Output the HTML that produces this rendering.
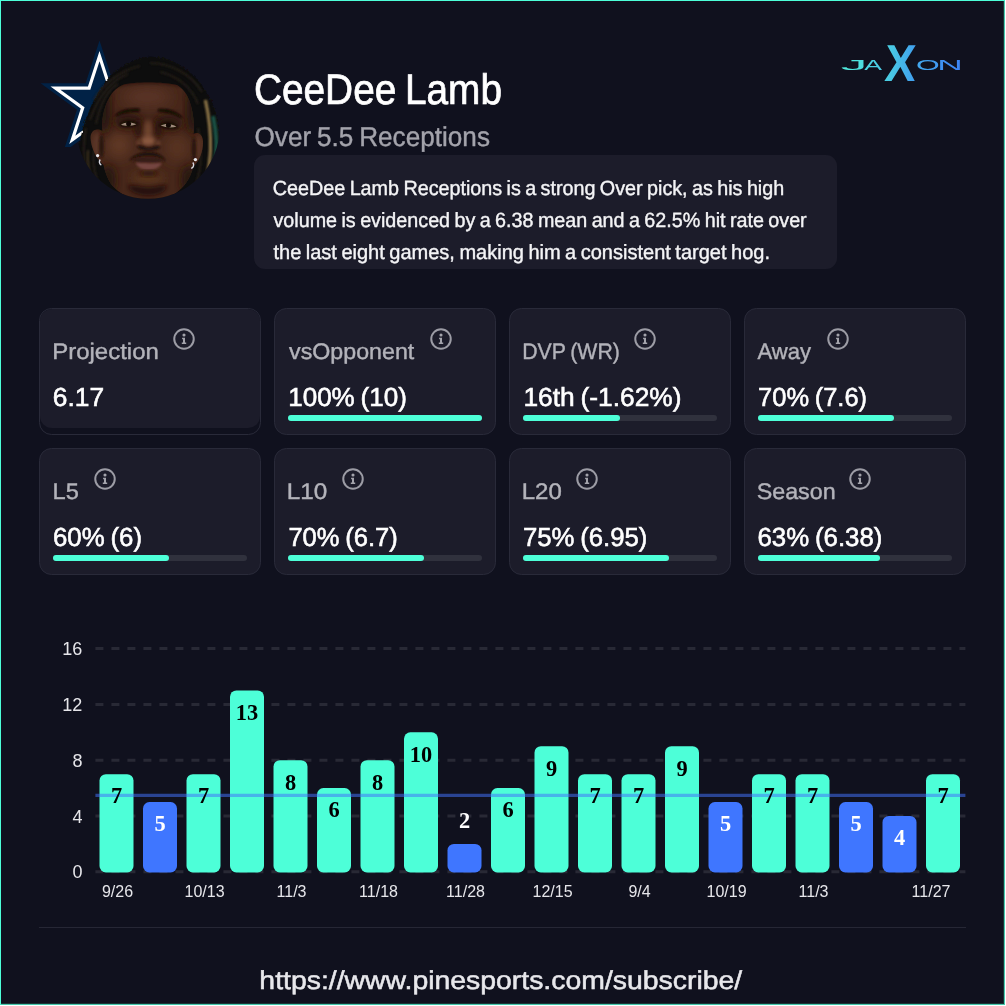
<!DOCTYPE html>
<html lang="en"><head><meta charset="utf-8"><title>CeeDee Lamb - Over 5.5 Receptions</title>
<style>
html,body{margin:0;padding:0;background:#fff;}
body{width:1006px;height:1006px;overflow:hidden;position:relative;font-family:"Liberation Sans",sans-serif;}
#frame{position:absolute;left:0;top:0;width:1003px;height:1003px;border:1px solid #4dffd9;border-right-color:#46c9ae;border-bottom-color:#46c9ae;background:#10111e;box-shadow:inset -1px -1px 0 #1b3436;}
.abs{position:absolute;white-space:nowrap;}
.nm{left:253px;top:65.94px;font-size:42.6px;line-height:46px;color:#fff;}
.sb{left:254px;top:120.51px;font-size:27.4px;line-height:32px;color:#a3a3ab;}
#desc{left:254px;top:155px;width:583px;height:114px;border-radius:11px;background:#1c1c2a;}
.dl{left:273px;font-size:20.6px;line-height:32px;color:#f4f4f6;}
.card{position:absolute;width:220px;height:124.5px;border:1px solid #292a39;border-radius:12.5px;background:#1c1c2a;}
.card.proj{background:transparent;}
.card .inner{display:none;}
.card.proj .inner{display:block;position:absolute;left:0;top:0;width:220px;height:118.5px;border-radius:12px;background:#1c1c2a;}
.lab{position:absolute;left:13px;top:30.10px;font-size:22.5px;line-height:26px;color:#b3b3ba;white-space:nowrap;}
.fx{text-rendering:geometricPrecision;display:inline-block;transform-origin:0 50%;white-space:nowrap;word-spacing:-0.055em;-webkit-text-stroke:0.4px currentColor;}
.nm .fx{-webkit-text-stroke-width:0.7px;}
.val .fx{-webkit-text-stroke-width:0.6px;}
#url .fx{-webkit-text-stroke-width:0.5px;}
.ic{position:absolute;top:18.8px;}
.val{position:absolute;left:13px;top:72.72px;font-size:26.2px;line-height:30px;color:#fff;white-space:nowrap;}
.trk{position:absolute;left:13px;top:106px;width:194px;height:6px;border-radius:3px;background:#30313d;}
.fil{height:6px;border-radius:3px;background:#4dffd8;}
.chart{position:absolute;left:0;top:620px;}
.yt{font:18px "Liberation Sans",sans-serif;fill:#e6e6ea;}
.xt{font:16px "Liberation Sans",sans-serif;fill:#e6e6ea;}
.bl{font:bold 22.4px "Liberation Serif",serif;}
#hr{left:39px;top:926.5px;width:927px;height:1px;background:#262735;}
#url{left:260px;top:962.86px;font-size:25.8px;line-height:34px;color:#e8e8ec;}
</style></head><body>
<div id="frame"></div>
<svg class="abs" style="left:0;top:0" width="260" height="230" viewBox="0 0 260 230">
<defs>
<clipPath id="hc"><circle cx="148" cy="127" r="71.8"/></clipPath>
<clipPath id="sc"><rect x="30" y="30" width="140" height="117"/></clipPath>
<clipPath id="fc"><path d="M124 84.5 C134 81.5 166 81.8 177 85 C183 88.5 187 94 189.5 101 C192 108 193.5 116 193.8 124 C194 128 194 131 193.6 134 C197 131.5 202.5 133.5 203 141 C203.5 150 199.5 162 193.5 166 C192 172 189.5 178 186 183 C178 194 166 201 148 201 C132 201 119 194 111 184 C107.5 178.5 105 172 103.5 165 C97 160 91 148 90.5 138 C90.5 130.5 96 127.5 102.3 131 C102 127 102 123 102.5 119 C104 108 108 98 113.5 91.5 C116.5 88 120 86 124 84.5Z"/></clipPath>
<filter id="b1" x="-30%" y="-30%" width="160%" height="160%"><feGaussianBlur stdDeviation="1"/></filter>
<filter id="b2" x="-30%" y="-30%" width="160%" height="160%"><feGaussianBlur stdDeviation="2.2"/></filter>
<filter id="b4" x="-40%" y="-40%" width="180%" height="180%"><feGaussianBlur stdDeviation="4.5"/></filter>
<filter id="b7" x="-50%" y="-50%" width="200%" height="200%"><feGaussianBlur stdDeviation="7"/></filter>
<filter id="rough" x="-5%" y="-5%" width="110%" height="110%"><feTurbulence type="fractalNoise" baseFrequency="0.35" numOctaves="2" seed="3" result="n"/><feDisplacementMap in="SourceGraphic" in2="n" scale="3.5" xChannelSelector="R" yChannelSelector="G"/></filter>
</defs>
<!-- team star -->
<g clip-path="url(#sc)">
<polygon points="99.50,40.50 113.40,83.27 158.37,83.27 121.99,109.71 135.88,152.48 99.50,126.04 63.12,152.48 77.01,109.71 40.63,83.27 85.60,83.27" fill="#012246"/>
<polygon points="99.50,50.90 111.06,86.49 148.48,86.49 118.21,108.48 129.77,144.06 99.50,122.07 69.23,144.06 80.79,108.48 50.52,86.49 87.94,86.49" fill="#ffffff"/>
<polygon points="99.50,61.30 108.73,89.70 138.59,89.70 114.43,107.25 123.66,135.65 99.50,118.10 75.34,135.65 84.57,107.25 60.41,89.70 90.27,89.70" fill="#012246"/>
</g>
<!-- player head -->
<g clip-path="url(#hc)">
 <g filter="url(#rough)">
 <path d="M72 205 L75 165 C76 158 77 156 77.7 152 C79 144 80 140 81.5 134 C83 127 85 121 87.5 115 C89.5 110 91 106 93.5 101 C96 96 98.5 92 102 86.5 C105 82 109 77 114 72.5 C119 68 124 65 130.5 62 C137 59 143 57.2 149.5 56.7 C156 56.5 162 57.5 168.5 59.8 C175 62 181 65.5 187.5 70.6 C193 75 197.5 79.5 201.8 85 C206 90.5 209 96 211.5 101.6 C214.5 108 216 114 217.4 120.7 C219 128 219.7 135 219.7 142.2 C219.7 150 219 157 217.4 163.7 L224 205 Z" fill="#110e0a"/>
 </g>
 <!-- hair texture highlights -->
 <g fill="none" stroke="#2a241a" stroke-width="2.2" opacity="0.75" filter="url(#b1)">
  <path d="M118 84 C108 90 100 104 96 124"/><path d="M128 74 C112 80 98 96 90 120"/><path d="M140 66 C122 70 104 82 94 100"/>
  <path d="M150 63 C168 63 190 72 202 92"/><path d="M160 72 C178 76 192 88 198 104"/><path d="M86 128 C82 148 84 166 90 182"/>
  <path d="M94 150 C92 166 96 180 102 190"/><path d="M204 100 C210 120 212 150 206 178"/><path d="M198 128 C202 146 202 166 196 184"/>
 </g>
 <!-- blond / teal dread streaks on right -->
 <path d="M205.5 100 C209 116 211 134 210.5 150 C210 160 209 168 207 176" fill="none" stroke="#9c8250" stroke-width="3" filter="url(#b1)" opacity="0.9"/>
 <path d="M213 116 C216.5 132 217.5 150 214.5 164 C213 171 211 176 209 180" fill="none" stroke="#1d5a4c" stroke-width="4" filter="url(#b1)" opacity="0.9"/>
 <path d="M88 150 C87 162 89 174 93 184" fill="none" stroke="#4a3a22" stroke-width="2.5" filter="url(#b1)" opacity="0.7"/>
 <!-- face -->

 <g clip-path="url(#fc)">
  <rect x="80" y="70" width="140" height="140" fill="#47271a"/>
  <!-- broad shading -->
  <ellipse cx="147" cy="97" rx="24" ry="9" fill="#5c3625" filter="url(#b7)"/>
  <ellipse cx="119" cy="145" rx="11" ry="13" fill="#633a28" filter="url(#b7)"/>
  <ellipse cx="177" cy="148" rx="11" ry="13" fill="#5a3424" filter="url(#b7)"/>
  <ellipse cx="148" cy="178" rx="16" ry="6" fill="#59341f" filter="url(#b4)"/>
  <!-- side shadows -->
  <ellipse cx="104" cy="110" rx="6" ry="24" fill="#24120b" filter="url(#b4)"/>
  <ellipse cx="193" cy="110" rx="6" ry="24" fill="#24120b" filter="url(#b4)"/>
  <ellipse cx="108" cy="180" rx="8" ry="15" fill="#26130c" filter="url(#b4)"/>
  <ellipse cx="189" cy="180" rx="8" ry="15" fill="#26130c" filter="url(#b4)"/>
  <path d="M116 86 C128 81 168 81 184 86 L184 78 L116 78Z" fill="#1c0f09" filter="url(#b2)"/>
  <!-- ears -->
  <ellipse cx="97" cy="145" rx="5" ry="13" fill="#5a3525" filter="url(#b2)"/>
  <ellipse cx="198.5" cy="148" rx="4" ry="13" fill="#553122" filter="url(#b2)"/>
  <ellipse cx="101.5" cy="146" rx="2.5" ry="12" fill="#2a150d" filter="url(#b1)"/>
  <ellipse cx="194" cy="149" rx="2.2" ry="12" fill="#2a150d" filter="url(#b1)"/>
  <!-- eye sockets -->
  <ellipse cx="128" cy="121" rx="14" ry="7.5" fill="#2b150d" filter="url(#b4)"/>
  <ellipse cx="169" cy="122.5" rx="14" ry="7.5" fill="#2b150d" filter="url(#b4)"/>
  <ellipse cx="138" cy="128" rx="3.5" ry="9" fill="#2e170e" filter="url(#b2)"/>
  <ellipse cx="158.5" cy="128" rx="3.5" ry="9" fill="#2e170e" filter="url(#b2)"/>
  <!-- eyebrows -->
  <path d="M115.5 115.2 C120 110.5 130 107.5 139.8 108.8 L139.5 111.8 C131 111.2 122 113 116.2 116.4Z" fill="#120805" filter="url(#b1)"/>
  <path d="M158 109 C167 107.8 176.5 111 182 117.2 L181 118.3 C175 114 167 112 158.3 112Z" fill="#120805" filter="url(#b1)"/>
  <!-- eyes -->
  <path d="M118.8 125 C122.5 119.8 133 119.3 138.6 124 C133 127.6 124 127.8 118.8 125Z" fill="#190b06" filter="url(#b1)"/>
  <path d="M158.2 125.6 C163.5 120.8 174 121.4 178.6 127.4 C172.5 129.6 164 129 158.2 125.6Z" fill="#190b06" filter="url(#b1)"/>
  <path d="M121 124.7 C124.5 122 131.5 121.8 136.3 124.3 C131.5 126.2 125 126.4 121 124.7Z" fill="#9f8b7c"/>
  <path d="M160.6 125.6 C165 123 172 123.5 176.4 126.8 C171.5 128 165.5 127.6 160.6 125.6Z" fill="#9f8b7c"/>
  <circle cx="128.6" cy="123.8" r="2.5" fill="#120805"/><circle cx="168.4" cy="125.2" r="2.5" fill="#120805"/>
  <!-- nose -->
  <ellipse cx="148" cy="131" rx="3.8" ry="11" fill="#70442f" filter="url(#b2)"/>
  <ellipse cx="148" cy="141" rx="7.5" ry="4.6" fill="#8a5840" filter="url(#b2)"/>
  <ellipse cx="139" cy="143" rx="3" ry="3" fill="#5e3826" filter="url(#b1)"/><ellipse cx="158" cy="143.5" rx="3" ry="3" fill="#5e3826" filter="url(#b1)"/>
  <path d="M136.8 146.2 C140 144.2 143 147.2 148.4 148 C154 147.2 157.5 144.2 160.6 146.8 C158 150 153 150.4 148.4 150.2 C144 150.4 139.3 150 136.8 146.2Z" fill="#1f0e08" filter="url(#b1)"/>
  <!-- mustache + lips -->
  <path d="M128.6 161 C132 155.5 141 152 149 152.2 C157 152 163 155.5 166 161.2 C160 156.8 155 155.6 149 155.8 C143 155.6 135 156.6 128.6 161Z" fill="#1a0c07" filter="url(#b1)"/>
  <path d="M130.5 160.5 C137 156.8 144 157 148.5 157.8 C153 157 159 157 165 161 C158.5 163 153 162.6 148.5 162.6 C143 162.6 137.5 162.8 130.5 160.5Z" fill="#361a14" filter="url(#b1)"/>
  <path d="M135.5 162.6 C141 163.4 156 163.4 162 162.8 C160 167.8 154.5 170 148.6 170 C142.5 170 137.5 167.8 135.5 162.6Z" fill="#74443f" filter="url(#b1)"/>
  <ellipse cx="148.5" cy="173.5" rx="10" ry="2.2" fill="#2f170f" filter="url(#b2)"/>
  <!-- goatee -->
  <path d="M127.5 186 C134 184.5 142 188 148 187.5 C155 188 162 184.5 167 186 C165 192 158 195.5 148 195.5 C139 195.5 130.5 192 127.5 186Z" fill="#201009" filter="url(#b2)" opacity="0.9"/>
 </g>
 <!-- earrings -->
 <circle cx="97.6" cy="155.6" r="1.6" fill="#e8e8ee"/><path d="M100.2 159.5 C98.8 161.5 99.2 164.3 101.3 165" fill="none" stroke="#d8d8e0" stroke-width="1.4"/>
 <circle cx="195.4" cy="159.6" r="1.7" fill="#e8e8ee"/><path d="M192.8 162.5 C194.3 164.5 193.8 167.6 191.2 168.4" fill="none" stroke="#d8d8e0" stroke-width="1.4"/>
</g>
</svg>

<svg class="abs" style="left:830px;top:35px" width="140" height="60" viewBox="830 35 140 60">
<defs><linearGradient id="gJ" x1="0" y1="0" x2="1" y2="0"><stop offset="0" stop-color="#50ecdc"/><stop offset="1" stop-color="#4cdae0"/></linearGradient><linearGradient id="gA" x1="0" y1="0" x2="1" y2="0"><stop offset="0" stop-color="#4cd8e1"/><stop offset="1" stop-color="#49c8e5"/></linearGradient><linearGradient id="gX" x1="0" y1="0" x2="1" y2="0"><stop offset="0" stop-color="#4bd3e2"/><stop offset="1" stop-color="#409def"/></linearGradient><linearGradient id="gO" x1="0" y1="0" x2="1" y2="0"><stop offset="0" stop-color="#43a9ed"/><stop offset="1" stop-color="#3f96f1"/></linearGradient><linearGradient id="gN" x1="0" y1="0" x2="1" y2="0"><stop offset="0" stop-color="#3f95f1"/><stop offset="1" stop-color="#3b82f6"/></linearGradient></defs>
<g font-family="'Liberation Sans',sans-serif">
<text fill="url(#gJ)" transform="translate(840.81 69.9) scale(3.65 1)" font-size="14.6">J</text>
<text fill="url(#gA)" transform="translate(864.2 69.9) scale(1.83 1)" font-size="14.6">A</text>
<text fill="url(#gX)" transform="translate(884.0 81.2) skewX(-3) scale(0.92 1.02)" font-size="50.8" font-weight="700">X</text>
<text fill="url(#gO)" transform="translate(915.95 69.9) scale(2.09 1)" font-size="14.6">O</text>
<text fill="url(#gN)" transform="translate(937.34 69.9) scale(2.42 1)" font-size="14.6">N</text>
</g>
</svg>
<div class="abs nm"><span class="fx" id="name" style="transform:translate(0.90px,-0.40px) scaleX(0.9112)">CeeDee Lamb</span></div>
<div class="abs sb"><span class="fx" id="sub" style="transform:translate(0.53px,0.00px) scaleX(0.9544)">Over 5.5 Receptions</span></div>
<div id="desc" class="abs"></div>
<div class="abs dl" style="top:171.76px"><span class="fx" id="d1" style="transform:translate(-0.19px,0.00px) scaleX(0.9585)">CeeDee Lamb Receptions is a strong Over pick, as his high</span></div>
<div class="abs dl" style="top:203.76px"><span class="fx" id="d2" style="transform:translate(0.49px,0.00px) scaleX(0.9581)">volume is evidenced by a 6.38 mean and a 62.5% hit rate over</span></div>
<div class="abs dl" style="top:235.86px"><span class="fx" id="d3" style="transform:translate(0.46px,0.00px) scaleX(0.9723)">the last eight games, making him a consistent target hog.</span></div>
<div class="card proj" style="left:39px;top:308px"><div class="inner"></div><div class="lab"><span class="fx" id="l0" style="transform:translate(-0.79px,0.45px) scaleX(1.0652)">Projection</span></div><svg class="ic" style="left:132.5px" width="22" height="22" viewBox="0 0 22 22"><circle cx="11" cy="11" r="9.75" fill="none" stroke="#9c9ca5" stroke-width="2"/><circle cx="11" cy="7" r="1.55" fill="#a3a3ab"/><path d="M9.1 9.7h2.9v4.9h1.2v1.5H8.8v-1.5h1.2v-3.4H9.1z" fill="#a3a3ab"/></svg><div class="val"><span class="fx" id="v0" style="transform:translate(-0.21px,0.00px) scaleX(1.0060)">6.17</span></div></div>
<div class="card" style="left:274px;top:308px"><div class="inner"></div><div class="lab"><span class="fx" id="l1" style="transform:translate(1.03px,0.45px) scaleX(1.0321)">vsOpponent</span></div><svg class="ic" style="left:154.6px" width="22" height="22" viewBox="0 0 22 22"><circle cx="11" cy="11" r="9.75" fill="none" stroke="#9c9ca5" stroke-width="2"/><circle cx="11" cy="7" r="1.55" fill="#a3a3ab"/><path d="M9.1 9.7h2.9v4.9h1.2v1.5H8.8v-1.5h1.2v-3.4H9.1z" fill="#a3a3ab"/></svg><div class="val"><span class="fx" id="v1" style="transform:translate(0.16px,0.00px) scaleX(0.9946)">100% (10)</span></div><div class="trk"><div class="fil" style="width:100%"></div></div></div>
<div class="card" style="left:509px;top:308px"><div class="inner"></div><div class="lab"><span class="fx" id="l2" style="transform:translate(-0.80px,0.45px) scaleX(0.9445)">DVP (WR)</span></div><svg class="ic" style="left:123.7px" width="22" height="22" viewBox="0 0 22 22"><circle cx="11" cy="11" r="9.75" fill="none" stroke="#9c9ca5" stroke-width="2"/><circle cx="11" cy="7" r="1.55" fill="#a3a3ab"/><path d="M9.1 9.7h2.9v4.9h1.2v1.5H8.8v-1.5h1.2v-3.4H9.1z" fill="#a3a3ab"/></svg><div class="val"><span class="fx" id="v2" style="transform:translate(0.45px,0.00px) scaleX(1.0056)">16th (-1.62%)</span></div><div class="trk"><div class="fil" style="width:50%"></div></div></div>
<div class="card" style="left:744px;top:308px"><div class="inner"></div><div class="lab"><span class="fx" id="l3" style="transform:translate(-0.50px,0.45px) scaleX(0.9801)">Away</span></div><svg class="ic" style="left:81.7px" width="22" height="22" viewBox="0 0 22 22"><circle cx="11" cy="11" r="9.75" fill="none" stroke="#9c9ca5" stroke-width="2"/><circle cx="11" cy="7" r="1.55" fill="#a3a3ab"/><path d="M9.1 9.7h2.9v4.9h1.2v1.5H8.8v-1.5h1.2v-3.4H9.1z" fill="#a3a3ab"/></svg><div class="val"><span class="fx" id="v3" style="transform:translate(0.04px,0.00px) scaleX(0.9728)">70% (7.6)</span></div><div class="trk"><div class="fil" style="width:70%"></div></div></div>
<div class="card" style="left:39px;top:448px"><div class="inner"></div><div class="lab"><span class="fx" id="l4" style="transform:translate(-0.38px,0.45px) scaleX(1.0496)">L5</span></div><svg class="ic" style="left:53.5px" width="22" height="22" viewBox="0 0 22 22"><circle cx="11" cy="11" r="9.75" fill="none" stroke="#9c9ca5" stroke-width="2"/><circle cx="11" cy="7" r="1.55" fill="#a3a3ab"/><path d="M9.1 9.7h2.9v4.9h1.2v1.5H8.8v-1.5h1.2v-3.4H9.1z" fill="#a3a3ab"/></svg><div class="val"><span class="fx" id="v4" style="transform:translate(0.00px,0.00px) scaleX(0.9860)">60% (6)</span></div><div class="trk"><div class="fil" style="width:60%"></div></div></div>
<div class="card" style="left:274px;top:448px"><div class="inner"></div><div class="lab"><span class="fx" id="l5" style="transform:translate(-1.21px,0.45px) scaleX(1.0771)">L10</span></div><svg class="ic" style="left:66.9px" width="22" height="22" viewBox="0 0 22 22"><circle cx="11" cy="11" r="9.75" fill="none" stroke="#9c9ca5" stroke-width="2"/><circle cx="11" cy="7" r="1.55" fill="#a3a3ab"/><path d="M9.1 9.7h2.9v4.9h1.2v1.5H8.8v-1.5h1.2v-3.4H9.1z" fill="#a3a3ab"/></svg><div class="val"><span class="fx" id="v5" style="transform:translate(0.40px,0.00px) scaleX(0.9754)">70% (6.7)</span></div><div class="trk"><div class="fil" style="width:70%"></div></div></div>
<div class="card" style="left:509px;top:448px"><div class="inner"></div><div class="lab"><span class="fx" id="l6" style="transform:translate(-1.23px,0.45px) scaleX(1.0661)">L20</span></div><svg class="ic" style="left:66.4px" width="22" height="22" viewBox="0 0 22 22"><circle cx="11" cy="11" r="9.75" fill="none" stroke="#9c9ca5" stroke-width="2"/><circle cx="11" cy="7" r="1.55" fill="#a3a3ab"/><path d="M9.1 9.7h2.9v4.9h1.2v1.5H8.8v-1.5h1.2v-3.4H9.1z" fill="#a3a3ab"/></svg><div class="val"><span class="fx" id="v6" style="transform:translate(-0.05px,0.00px) scaleX(0.9828)">75% (6.95)</span></div><div class="trk"><div class="fil" style="width:75%"></div></div></div>
<div class="card" style="left:744px;top:448px"><div class="inner"></div><div class="lab"><span class="fx" id="l7" style="transform:translate(-1.36px,0.45px) scaleX(1.0357)">Season</span></div><svg class="ic" style="left:104.1px" width="22" height="22" viewBox="0 0 22 22"><circle cx="11" cy="11" r="9.75" fill="none" stroke="#9c9ca5" stroke-width="2"/><circle cx="11" cy="7" r="1.55" fill="#a3a3ab"/><path d="M9.1 9.7h2.9v4.9h1.2v1.5H8.8v-1.5h1.2v-3.4H9.1z" fill="#a3a3ab"/></svg><div class="val"><span class="fx" id="v7" style="transform:translate(-0.52px,0.00px) scaleX(0.9866)">63% (6.38)</span></div><div class="trk"><div class="fil" style="width:63%"></div></div></div>
<svg class="chart" width="1006" height="300" viewBox="0 620 1006 300">
<line x1="95.4" x2="965.4" y1="871.80" y2="871.80" stroke="#282935" stroke-width="3" stroke-dasharray="8 8"/>
<text x="82.4" y="878.40" class="yt" text-anchor="end">0</text>
<line x1="95.4" x2="965.4" y1="816.00" y2="816.00" stroke="#282935" stroke-width="3" stroke-dasharray="8 8"/>
<text x="82.4" y="822.60" class="yt" text-anchor="end">4</text>
<line x1="95.4" x2="965.4" y1="760.20" y2="760.20" stroke="#282935" stroke-width="3" stroke-dasharray="8 8"/>
<text x="82.4" y="766.80" class="yt" text-anchor="end">8</text>
<line x1="95.4" x2="965.4" y1="704.40" y2="704.40" stroke="#282935" stroke-width="3" stroke-dasharray="8 8"/>
<text x="82.4" y="711.00" class="yt" text-anchor="end">12</text>
<line x1="95.4" x2="965.4" y1="648.60" y2="648.60" stroke="#282935" stroke-width="3" stroke-dasharray="8 8"/>
<text x="82.4" y="655.20" class="yt" text-anchor="end">16</text>
<rect x="99.50" y="774.15" width="34.0" height="98.25" rx="6.4" fill="#4dffd8"/>
<rect x="143.00" y="802.05" width="34.0" height="70.35" rx="6.4" fill="#3f76ff"/>
<rect x="186.50" y="774.15" width="34.0" height="98.25" rx="6.4" fill="#4dffd8"/>
<rect x="230.00" y="690.45" width="34.0" height="181.95" rx="6.4" fill="#4dffd8"/>
<rect x="273.50" y="760.20" width="34.0" height="112.20" rx="6.4" fill="#4dffd8"/>
<rect x="317.00" y="788.10" width="34.0" height="84.30" rx="6.4" fill="#4dffd8"/>
<rect x="360.50" y="760.20" width="34.0" height="112.20" rx="6.4" fill="#4dffd8"/>
<rect x="404.00" y="732.30" width="34.0" height="140.10" rx="6.4" fill="#4dffd8"/>
<rect x="447.50" y="843.90" width="34.0" height="28.50" rx="6.4" fill="#3f76ff"/>
<rect x="491.00" y="788.10" width="34.0" height="84.30" rx="6.4" fill="#4dffd8"/>
<rect x="534.50" y="746.25" width="34.0" height="126.15" rx="6.4" fill="#4dffd8"/>
<rect x="578.00" y="774.15" width="34.0" height="98.25" rx="6.4" fill="#4dffd8"/>
<rect x="621.50" y="774.15" width="34.0" height="98.25" rx="6.4" fill="#4dffd8"/>
<rect x="665.00" y="746.25" width="34.0" height="126.15" rx="6.4" fill="#4dffd8"/>
<rect x="708.50" y="802.05" width="34.0" height="70.35" rx="6.4" fill="#3f76ff"/>
<rect x="752.00" y="774.15" width="34.0" height="98.25" rx="6.4" fill="#4dffd8"/>
<rect x="795.50" y="774.15" width="34.0" height="98.25" rx="6.4" fill="#4dffd8"/>
<rect x="839.00" y="802.05" width="34.0" height="70.35" rx="6.4" fill="#3f76ff"/>
<rect x="882.50" y="816.00" width="34.0" height="56.40" rx="6.4" fill="#3f76ff"/>
<rect x="926.00" y="774.15" width="34.0" height="98.25" rx="6.4" fill="#4dffd8"/>
<line x1="95.4" x2="965.4" y1="795.37" y2="795.37" stroke="#4273fa" stroke-opacity="0.535" stroke-width="3.2"/>
<text x="116.50" y="803.45" class="bl" fill="#000" text-anchor="middle">7</text>
<text x="160.00" y="831.35" class="bl" fill="#fff" text-anchor="middle">5</text>
<text x="203.50" y="803.45" class="bl" fill="#000" text-anchor="middle">7</text>
<text x="247.00" y="719.75" class="bl" fill="#000" text-anchor="middle">13</text>
<text x="290.50" y="789.50" class="bl" fill="#000" text-anchor="middle">8</text>
<text x="334.00" y="817.40" class="bl" fill="#000" text-anchor="middle">6</text>
<text x="377.50" y="789.50" class="bl" fill="#000" text-anchor="middle">8</text>
<text x="421.00" y="761.60" class="bl" fill="#000" text-anchor="middle">10</text>
<text x="464.50" y="828.30" class="bl" fill="#fff" text-anchor="middle">2</text>
<text x="508.00" y="817.40" class="bl" fill="#000" text-anchor="middle">6</text>
<text x="551.50" y="775.55" class="bl" fill="#000" text-anchor="middle">9</text>
<text x="595.00" y="803.45" class="bl" fill="#000" text-anchor="middle">7</text>
<text x="638.50" y="803.45" class="bl" fill="#000" text-anchor="middle">7</text>
<text x="682.00" y="775.55" class="bl" fill="#000" text-anchor="middle">9</text>
<text x="725.50" y="831.35" class="bl" fill="#fff" text-anchor="middle">5</text>
<text x="769.00" y="803.45" class="bl" fill="#000" text-anchor="middle">7</text>
<text x="812.50" y="803.45" class="bl" fill="#000" text-anchor="middle">7</text>
<text x="856.00" y="831.35" class="bl" fill="#fff" text-anchor="middle">5</text>
<text x="899.50" y="845.30" class="bl" fill="#fff" text-anchor="middle">4</text>
<text x="943.00" y="803.45" class="bl" fill="#000" text-anchor="middle">7</text>
<text x="117.55" y="896.9" class="xt" text-anchor="middle">9/26</text>
<text x="204.55" y="896.9" class="xt" text-anchor="middle">10/13</text>
<text x="291.55" y="896.9" class="xt" text-anchor="middle">11/3</text>
<text x="378.55" y="896.9" class="xt" text-anchor="middle">11/18</text>
<text x="465.55" y="896.9" class="xt" text-anchor="middle">11/28</text>
<text x="552.55" y="896.9" class="xt" text-anchor="middle">12/15</text>
<text x="639.55" y="896.9" class="xt" text-anchor="middle">9/4</text>
<text x="726.55" y="896.9" class="xt" text-anchor="middle">10/19</text>
<text x="813.55" y="896.9" class="xt" text-anchor="middle">11/3</text>
<text x="931.05" y="896.9" class="xt" text-anchor="middle">11/27</text>
</svg>
<div id="hr" class="abs"></div>
<div id="url" class="abs"><span class="fx" id="u" style="transform:translate(-0.65px,0.00px) scaleX(1.1005)">https://www.pinesports.com/subscribe/</span></div>
</body></html>
